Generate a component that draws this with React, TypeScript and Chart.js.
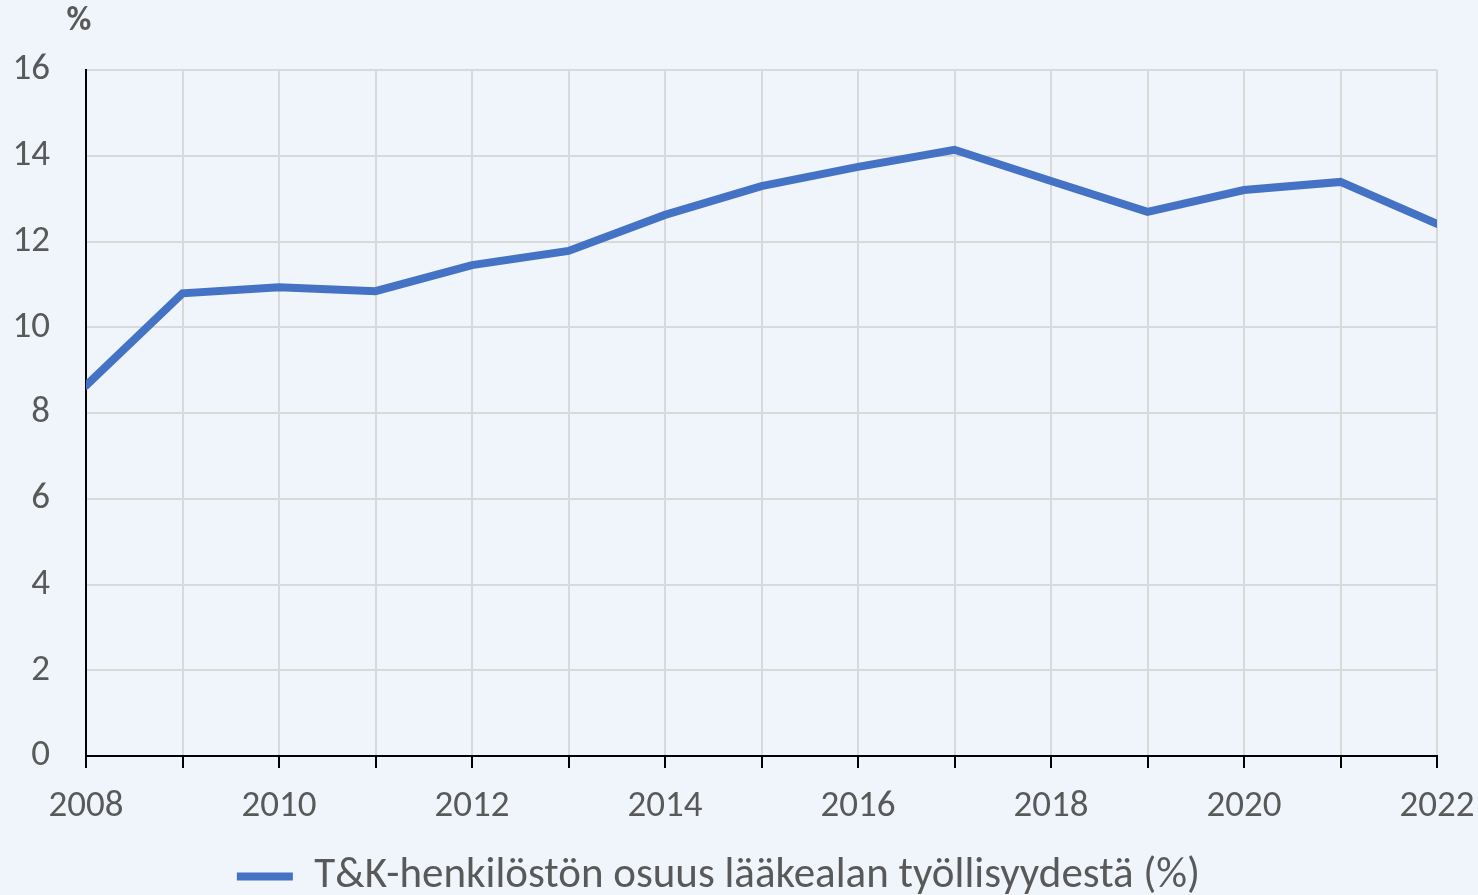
import React, { useEffect, useRef } from 'react';
import { Chart, registerables } from 'chart.js';

Chart.register(...registerables);

const years = ['2008', '2009', '2010', '2011', '2012', '2013', '2014', '2015', '2016', '2017', '2018', '2019', '2020', '2021', '2022'];
const shareValues = [8.64, 10.79, 10.93, 10.84, 11.45, 11.78, 12.62, 13.29, 13.74, 14.14, 13.41, 12.69, 13.2, 13.39, 12.41];
const seriesLabel = 'T&K-henkilöstön osuus lääkealan työllisyydestä (%)';
const yMin = 0;
const yMax = 16;
const yStep = 2;
const unitLabel = '%';

const FONT = 'Carlito, Lato, "Open Sans", sans-serif';
const TEXT = '#595959';

const unitPlugin = {
  id: 'unitLabel',
  afterDraw(chart: any) {
    const ctx = chart.ctx;
    ctx.save();
    ctx.font = `bold 34px ${FONT}`;
    ctx.fillStyle = TEXT;
    ctx.textAlign = 'center';
    ctx.textBaseline = 'middle';
    ctx.fillText(unitLabel, 79, 21);
    ctx.restore();
  },
};

export default function App() {
  const ref = useRef<HTMLCanvasElement | null>(null);

  useEffect(() => {
    document.body.style.margin = '0';
    const canvas = ref.current;
    if (!canvas) return;
    const chart = new Chart(canvas, {
      type: 'line',
      data: {
        labels: years,
        datasets: [
          {
            label: seriesLabel,
            data: shareValues,
            borderColor: '#4472c4',
            backgroundColor: '#4472c4',
            borderWidth: 8,
            pointRadius: 0,
            pointHoverRadius: 0,
            tension: 0,
            clip: 0,
            borderCapStyle: 'round',
          } as any,
        ],
      },
      options: {
        responsive: false,
        devicePixelRatio: 1,
        animation: false,
        layout: { padding: { top: 70, right: 41, left: 0, bottom: -13 } },
        plugins: {
          tooltip: { enabled: false },
          legend: {
            position: 'bottom',
            labels: {
              usePointStyle: true,
              pointStyle: 'line',
              pointStyleWidth: 56,
              color: TEXT,
              font: { family: FONT, size: 43 },
              padding: 10,
            },
          },
        },
        scales: {
          x: {
            type: 'category',
            offset: false,
            grid: {
              color: '#d9d9d9',
              lineWidth: 2,
              tickLength: 12,
              tickColor: '#000000',
              tickWidth: 2,
            },
            border: { color: '#000000', width: 2 },
            ticks: {
              autoSkip: false,
              maxRotation: 0,
              minRotation: 0,
              color: TEXT,
              font: { family: FONT, size: 37 },
              padding: 17,
              callback: (_v: any, i: number) => (i % 2 === 0 ? years[i] : ''),
            },
            afterFit: (s: any) => {
              s.height = 89;
              s.paddingLeft = 0;
              s.paddingRight = 0;
            },
          },
          y: {
            min: yMin,
            max: yMax,
            grid: { color: '#d9d9d9', lineWidth: 2, drawTicks: false },
            border: { color: '#000000', width: 2 },
            ticks: {
              stepSize: yStep,
              color: TEXT,
              font: { family: FONT, size: 37 },
              padding: 36,
            },
            afterFit: (s: any) => {
              s.width = 86;
              s.paddingTop = 0;
              s.paddingBottom = 0;
            },
          },
        },
      },
      plugins: [unitPlugin],
    });
    return () => chart.destroy();
  }, []);

  return (
    <div style={{ width: 1478, height: 895, background: '#eff5fa' }}>
      <canvas ref={ref} width={1478} height={895} style={{ display: 'block' }} />
    </div>
  );
}
